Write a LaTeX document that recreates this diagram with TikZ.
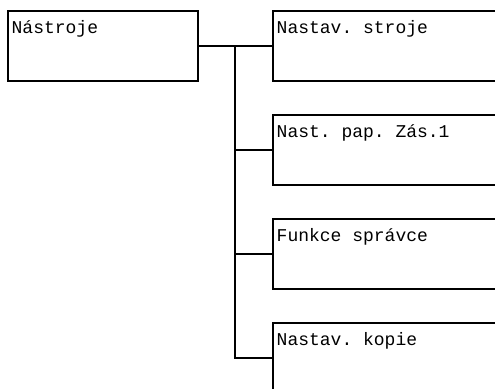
\documentclass[tikz,border=0pt]{standalone}
\usepackage{fontspec}
\setmonofont{Liberation Mono}
\usetikzlibrary{positioning}

\begin{document}
\begin{tikzpicture}[x=1pt, y=-1pt,
    menubox/.style={draw, line width=1.8pt, rectangle, anchor=north west,
      minimum height=70pt, inner sep=0pt},
    menutext/.style={font=\ttfamily\fontsize{18}{20}\selectfont,
      anchor=base west, inner sep=0pt},
    link/.style={line width=1.8pt}]
        % Page frame
        \useasboundingbox (0,0) rectangle (495,388);
        \clip (0,0) rectangle (495,388);

        % Main menu
        \node[menubox, minimum width=190pt] (tools) at (7,10) {};
        \node[menutext] (toolstext) at ([shift={(4.5,23)}]tools.north west) {Nástroje};

        % Sub menus
        \node[menubox, minimum width=240pt] (setup) at (272,10) {};
        \node[menutext] (setuptext) at ([shift={(4.5,23)}]setup.north west) {Nastav. stroje};

        \node[menubox, minimum width=240pt] (paper) at (272,114) {};
        \node[menutext] (papertext) at ([shift={(4.5,23)}]paper.north west) {Nast. pap. Zás.1};

        \node[menubox, minimum width=240pt] (admin) at (272,218) {};
        \node[menutext] (admintext) at ([shift={(4.5,23)}]admin.north west) {Funkce správce};

        \node[menubox, minimum width=240pt] (copy) at (272,322) {};
        \node[menutext] (copytext) at ([shift={(4.5,23)}]copy.north west) {Nastav. kopie};

        % Tree lines
        \coordinate (split) at (235,45);
        \draw[link] (tools.east) -- (setup.west);
        \draw[link] (split) -- (split |- copy.west) -- (copy.west);
        \draw[link] ([xshift=-0.9pt]split |- paper.west) -- (paper.west);
        \draw[link] ([xshift=-0.9pt]split |- admin.west) -- (admin.west);
      \end{tikzpicture}
\end{document}
